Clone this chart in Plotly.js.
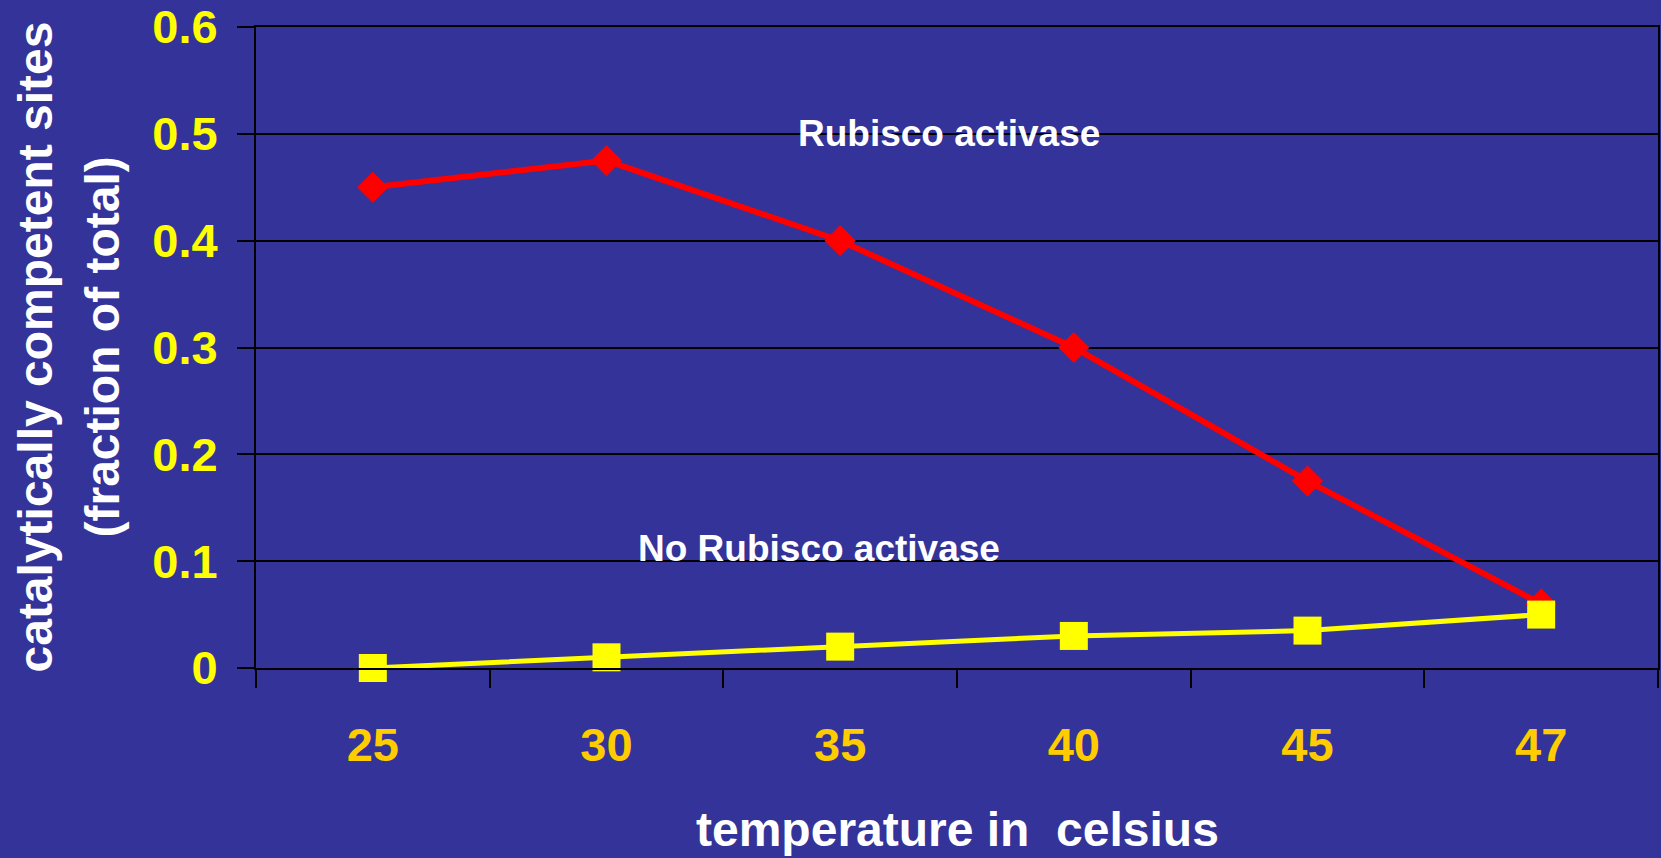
<!DOCTYPE html>
<html>
<head>
<meta charset="utf-8">
<script src="https://cdn.plot.ly/plotly-3.0.1.min.js"></script>
<style>
html,body{margin:0;padding:0;background:#333399;}
#chart{width:1661px;height:858px;}
</style>
</head>
<body>
<div id="chart"></div>
<script>
const temperatures = ["25", "30", "35", "40", "45", "47"];
const withActivase = [0.45, 0.475, 0.40, 0.30, 0.175, 0.06];
const withoutActivase = [0.0, 0.01, 0.02, 0.03, 0.035, 0.05];
const yTicks = [0, 0.1, 0.2, 0.3, 0.4, 0.5, 0.6];
const yTickText = ["0", "0.1", "0.2", "0.3", "0.4", "0.5", "0.6"];

const FONT = "Liberation Sans, Arial, sans-serif";

const traces = [
  {
    x: temperatures, y: withActivase, type: "scatter", mode: "lines+markers",
    name: "Rubisco activase", cliponaxis: false,
    line: {color: "#FF0000", width: 6},
    marker: {symbol: "diamond", size: 24, color: "#FF0000"}
  },
  {
    x: temperatures, y: withoutActivase, type: "scatter", mode: "lines+markers",
    name: "No Rubisco activase", cliponaxis: false,
    line: {color: "#FFFF00", width: 5},
    marker: {symbol: "square", size: 28, color: "#FFFF00"}
  }
];

const layout = {
  width: 1661, height: 858,
  paper_bgcolor: "#333399", plot_bgcolor: "#333399",
  margin: {l: 256, r: 3, t: 27, b: 190},
  showlegend: false,
  font: {family: FONT, color: "#FFFFFF"},
  xaxis: {
    type: "category",
    range: [-0.5, 5.5],
    tickson: "boundaries",
    ticks: "outside", ticklen: 18, tickwidth: 2, tickcolor: "#000000",
    showline: true, linecolor: "#000000", linewidth: 2, mirror: true,
    showgrid: false, zeroline: false,
    tickfont: {family: FONT, size: 47, color: "#FFCC00", weight: "bold"},
    ticklabelstandoff: 35,
    automargin: false
  },
  yaxis: {
    range: [0, 0.6],
    tickvals: yTicks, ticktext: yTickText,
    ticks: "outside", ticklen: 17, tickwidth: 2, tickcolor: "#000000",
    showline: true, linecolor: "#000000", linewidth: 2, mirror: true,
    showgrid: true, gridcolor: "#000000", gridwidth: 2,
    zeroline: false,
    tickfont: {family: FONT, size: 47, color: "#FFFF00", weight: "bold"},
    ticklabelstandoff: 10,
    automargin: false
  },
  annotations: [
    {text: "<b>Rubisco activase</b>", x: 2.464, y: 0.5, xref: "x", yref: "y",
     showarrow: false, xanchor: "center", yanchor: "middle",
     font: {family: FONT, size: 37, color: "#FFFFFF"}},
    {text: "<b>No Rubisco activase</b>", x: 1.911, y: 0.112, xref: "x", yref: "y",
     showarrow: false, xanchor: "center", yanchor: "middle",
     font: {family: FONT, size: 37, color: "#FFFFFF"}},
    {text: "<b>temperature in  celsius</b>", x: 0.5, y: -0.252, xref: "paper", yref: "paper",
     showarrow: false, xanchor: "center", yanchor: "middle",
     font: {family: FONT, size: 48, color: "#FFFFFF"}},
    {text: "<b>catalytically competent sites</b>", x: 0, y: 0.5, xref: "paper", yref: "paper",
     xshift: -221, textangle: -90, showarrow: false, xanchor: "center", yanchor: "middle",
     font: {family: FONT, size: 48, color: "#FFFFFF"}},
    {text: "<b>(fraction of total)</b>", x: 0, y: 0.5, xref: "paper", yref: "paper",
     xshift: -154, textangle: -90, showarrow: false, xanchor: "center", yanchor: "middle",
     font: {family: FONT, size: 48, color: "#FFFFFF"}}
  ]
};

Plotly.newPlot("chart", traces, layout, {displayModeBar: false, staticPlot: true});
</script>
</body>
</html>
